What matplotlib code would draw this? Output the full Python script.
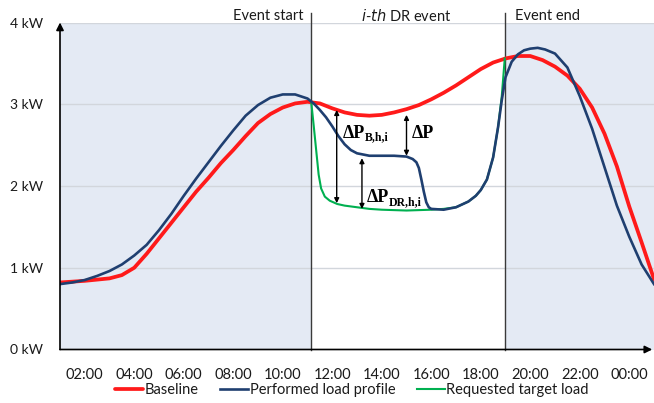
import numpy as np
import matplotlib
matplotlib.use("Agg")
import matplotlib.pyplot as plt

plt.rcParams['font.family'] = ['Lato', 'DejaVu Sans']

# hour of day (1 = 01:00, 25 = 01:00 next day)
base_hours = np.arange(1, 25.5, 0.5)
baseline = [0.82, 0.83, 0.84, 0.855, 0.87, 0.91, 1.00, 1.17, 1.36, 1.55,
            1.74, 1.93, 2.10, 2.28, 2.44, 2.61, 2.77, 2.88, 2.96, 3.01,
            3.03, 3.01, 2.95, 2.90, 2.87, 2.86, 2.87, 2.90, 2.94, 2.99,
            3.06, 3.14, 3.23, 3.33, 3.43, 3.51, 3.56, 3.59, 3.59, 3.54,
            3.46, 3.35, 3.19, 2.96, 2.64, 2.24, 1.75, 1.31, 0.86]

perf_hours = [1, 1.5, 2, 2.5, 3, 3.5, 4, 4.5, 5, 5.5, 6, 6.5, 7, 7.5, 8, 8.5,
              9, 9.5, 10, 10.5, 11, 11.25, 11.5, 11.75, 12, 12.25, 12.5, 12.75,
              13, 13.5, 14, 14.5, 15, 15.25, 15.4, 15.5, 15.6, 15.7, 15.8, 15.9,
              16, 16.5, 17, 17.5, 17.8, 18, 18.25, 18.5, 18.7, 18.85, 19, 19.25,
              19.5, 19.75, 20, 20.3, 20.6, 21, 21.5, 22, 22.5, 23, 23.5, 24,
              24.5, 25]
performed = [0.80, 0.82, 0.85, 0.90, 0.96, 1.04, 1.15, 1.28, 1.46, 1.66, 1.88,
             2.09, 2.29, 2.49, 2.68, 2.86, 2.99, 3.08, 3.12, 3.12, 3.07, 3.01,
             2.93, 2.84, 2.73, 2.61, 2.51, 2.44, 2.40, 2.37, 2.37, 2.37, 2.36,
             2.33, 2.29, 2.22, 2.08, 1.93, 1.80, 1.74, 1.72, 1.71, 1.74, 1.81,
             1.88, 1.95, 2.08, 2.35, 2.72, 3.05, 3.33, 3.52, 3.61, 3.66, 3.68,
             3.69, 3.67, 3.62, 3.45, 3.10, 2.70, 2.23, 1.76, 1.38, 1.04, 0.80]

target_hours = [11.15, 11.25, 11.35, 11.45, 11.55, 11.7, 11.9, 12.2, 12.5, 13,
                13.5, 14, 15, 16, 16.5, 17, 17.5, 17.8, 18, 18.25, 18.5, 18.7,
                18.85, 18.97]
target = [3.03, 2.74, 2.44, 2.14, 1.97, 1.87, 1.82, 1.78, 1.76, 1.74, 1.72,
          1.71, 1.70, 1.71, 1.72, 1.74, 1.81, 1.88, 1.95, 2.08, 2.35, 2.72,
          3.10, 3.56]

event_start = 11.15
event_end = 18.97

tick_hours = [2, 4, 6, 8, 10, 12, 14, 16, 18, 20, 22, 24]
tick_labels = ['02:00', '04:00', '06:00', '08:00', '10:00', '12:00',
               '14:00', '16:00', '18:00', '20:00', '22:00', '00:00']
y_ticks = [0, 1, 2, 3, 4]
y_labels = ['0 kW', '1 kW', '2 kW', '3 kW', '4 kW']

red = '#FF1A1A'
navy = '#1F3F70'
green = '#00B050'
shade = '#E4EAF4'
text_col = '#1a1a1a'

fig = plt.figure(figsize=(6.54, 4.03), dpi=100)
ax = fig.add_axes([60 / 654, 1 - 349.5 / 403, 594 / 654, 327 / 403])
ax.set_xlim(1, 25)
ax.set_ylim(0, 4)

# shaded outside-event periods
ax.axvspan(1, event_start, ymin=0, ymax=1, color=shade, lw=0, zorder=0)
ax.axvspan(event_end, 25, ymin=0, ymax=1, color=shade, lw=0, zorder=0)

for y in y_ticks[1:]:
    ax.axhline(y, color='#D2D6DC', lw=1.0, zorder=1)

for xv in (event_start, event_end):
    ax.plot([xv, xv], [0, 4.12], color='#3a3a3a', lw=1.0, zorder=2, clip_on=False)

l1, = ax.plot(base_hours, baseline, color=red, lw=2.7, zorder=3,
              solid_joinstyle='round', solid_capstyle='round', label='Baseline')
l3, = ax.plot(target_hours, target, color=green, lw=1.5, zorder=4,
              solid_joinstyle='round', label='Requested target load')
l2, = ax.plot(perf_hours, performed, color=navy, lw=1.9, zorder=5,
              solid_joinstyle='round', label='Performed load profile')

# double-headed arrows for the deltas
arrow_kw = dict(arrowstyle='<|-|>', color='black', lw=1.0, mutation_scale=7,
                shrinkA=0, shrinkB=0)
ax.annotate('', xy=(12.18, 1.79), xytext=(12.18, 2.93), arrowprops=arrow_kw, zorder=6)
ax.annotate('', xy=(13.2, 1.72), xytext=(13.2, 2.34), arrowprops=arrow_kw, zorder=6)
ax.annotate('', xy=(15.0, 2.37), xytext=(15.0, 2.87), arrowprops=arrow_kw, zorder=6)

serif = ['Liberation Serif', 'DejaVu Serif']
ax.text(12.42, 2.585, '\u0394P', family=serif, weight='bold', fontsize=13,
        va='baseline', ha='left', zorder=7)
ax.text(13.3, 2.555, 'B,h,i', family=serif, weight='bold', fontsize=8.5,
        va='baseline', ha='left', zorder=7)
ax.text(13.4, 1.8, '\u0394P', family=serif, weight='bold', fontsize=13,
        va='baseline', ha='left', zorder=7)
ax.text(14.27, 1.765, 'DR,h,i', family=serif, weight='bold', fontsize=8.5,
        va='baseline', ha='left', zorder=7)
ax.text(15.23, 2.59, '\u0394P', family=serif, weight='bold', fontsize=13,
        va='baseline', ha='left', zorder=7)

# labels above the event lines
ax.text(event_start - 0.3, 4.08, 'Event start', ha='right', va='center',
        fontsize=10.5, color=text_col, clip_on=False)
ax.text(14.98, 4.08, r'$\it{i}$-$\it{th}$ DR event',
        ha='center', va='center', fontsize=10.5, color=text_col, clip_on=False)
ax.text(event_end + 0.4, 4.08, 'Event end', ha='left', va='center',
        fontsize=10.5, color=text_col, clip_on=False)

# axes with arrow heads
for s in ['top', 'right', 'left', 'bottom']:
    ax.spines[s].set_visible(False)
ax.annotate('', xy=(0, 1.0), xytext=(0, 0), xycoords='axes fraction',
            arrowprops=dict(arrowstyle='-|>', color='black', lw=1.2,
                            mutation_scale=11, shrinkA=0, shrinkB=0), zorder=8)
ax.annotate('', xy=(0.997, 0), xytext=(0, 0), xycoords='axes fraction',
            arrowprops=dict(arrowstyle='-|>', color='black', lw=1.2,
                            mutation_scale=11, shrinkA=0, shrinkB=0), zorder=8)

ax.set_xticks(tick_hours)
ax.set_xticklabels(tick_labels, fontsize=10.5, color=text_col)
ax.set_yticks(y_ticks)
ax.set_yticklabels(y_labels, fontsize=10, color=text_col)
ax.tick_params(axis='both', length=0)
ax.tick_params(axis='x', pad=13)
ax.tick_params(axis='y', pad=12)

fig.legend(handles=[l1, l2, l3], loc='center', ncol=3, frameon=False,
           bbox_to_anchor=(352 / 654, 1 - 390 / 403), fontsize=10.5,
           handlelength=1.9, handletextpad=0.1, columnspacing=1.5,
           labelcolor=text_col)

fig.savefig('out.png', dpi=100)
